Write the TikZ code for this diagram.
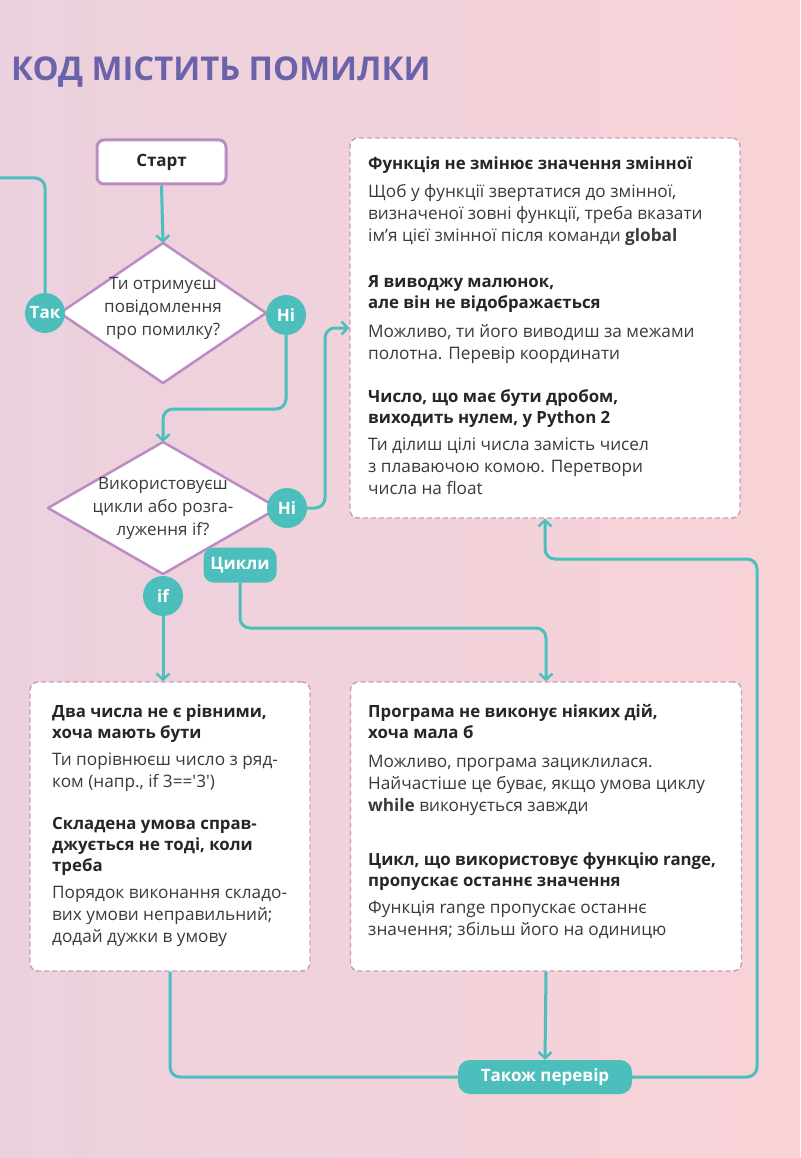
\documentclass[tikz,border=0pt]{standalone}
\usepackage{fontspec}
\setmainfont{Open Sans}
\usetikzlibrary{arrows.meta,calc}
\definecolor{tealc}{HTML}{4CBFBC}
\definecolor{purpc}{HTML}{BA8CC2}
\definecolor{dashc}{HTML}{C59DB6}
\definecolor{titlec}{HTML}{6A63AA}
\definecolor{bgleft}{HTML}{EBD1DE}
\definecolor{bgright}{HTML}{F8D3D8}
\definecolor{bodyc}{HTML}{3A3A3A}
\definecolor{headc}{HTML}{262626}
\begin{document}
\begin{tikzpicture}[x=1pt,y=-1pt,
  conn/.style={draw=tealc,line width=3pt,rounded corners=10pt},
  arr/.style={-{Straight Barb[length=6pt,width=13pt,line width=2.5pt]}},
  diam/.style={fill=white,draw=purpc,line width=2.5pt,line join=round},
  startbox/.style={draw=purpc,line width=3pt,fill=white,rounded corners=7pt,minimum width=129pt,minimum height=44pt,inner sep=0pt,font=\bfseries\fontsize{17}{20}\selectfont,text=headc},
  dbox/.style={draw=dashc,line width=1.4pt,dash pattern=on 5pt off 3pt,fill=white,rounded corners=8pt,inner sep=0pt},
  badge/.style={circle,fill=tealc,minimum size=40pt,inner sep=0pt,text=white,font=\bfseries\fontsize{17}{18}\selectfont},
  pill/.style={rounded corners=10pt,fill=tealc,inner sep=0pt,text=white,font=\bfseries\fontsize{17}{18}\selectfont},
  qtext/.style={align=center,inner sep=0pt,text=bodyc,font=\fontsize{17}{23}\selectfont},
  head/.style={anchor=base west,inner sep=0pt,align=left,text=headc,font=\bfseries\fontsize{16.8}{21}\selectfont},
  body/.style={anchor=base west,inner sep=0pt,align=left,text=bodyc,font=\fontsize{17.2}{22}\selectfont}
]
\useasboundingbox (0,0) rectangle (800,1158);
\shade[left color=bgleft,right color=bgright] (0,0) rectangle (800,1158);

% title
\node[anchor=base west,inner sep=0pt,text=titlec,font=\bfseries\fontsize{32.8}{40}\selectfont] (title) at (11,81) {КОД МІСТИТЬ ПОМИЛКИ};

% start
\node[startbox] (start) at (161.5,162) {Старт};

% diamond 1
\coordinate (d1top) at (163,243);
\draw[diam] (d1top) -- (266,313) -- (163,383) -- (60,313) -- cycle;
\node[qtext] (q1) at (163,308) {Ти отримуєш\\повідомлення\\про помилку?};

% diamond 2
\coordinate (d2top) at (163,442);
\draw[diam] (d2top) -- (278,508) -- (163,574) -- (48,508) -- cycle;
\node[qtext] (q2) at (163,508) {Використовуєш\\цикли або розга-\\луження if?};

% badges
\node[badge] (tak) at (45,313) {Так};
\node[badge] (ni1) at (286,315) {Ні};
\node[badge] (ni2) at (287,508) {Ні};
\node[badge] (ifb) at (163,596) {if};
\node[pill,minimum width=73pt,minimum height=35pt] (cykly) at (240,565) {Цикли};

% boxes
\node[dbox,minimum width=390pt,minimum height=380pt] (box1) at (545,328) {};
\node[dbox,minimum width=280pt,minimum height=289pt] (box2) at (170,826.5) {};
\node[dbox,minimum width=391pt,minimum height=289pt] (box3) at (546,826.5) {};

% bottom pill
\node[pill,minimum width=174pt,minimum height=34pt,rounded corners=12pt] (also) at (545,1077) {Також перевір};

% box1 text (anchors at last-line baselines)
\node[head] (h11) at (368,170) {Функція не змінює значення змінної};
\node[body] (b11) at (368,242) {Щоб у функції звертатися до змінної,\\визначеної зовні функції, треба вказати\\ім’я цієї змінної після команди \textbf{global}};
\node[head] (h12) at (368,308) {Я виводжу малюнок,\\але він не відображається};
\node[body] (b12) at (368,359) {Можливо, ти його виводиш за межами\\полотна. Перевір координати};
\node[head] (h13) at (368,423) {Число, що має бути дробом,\\виходить нулем, у Python 2};
\node[body] (b13) at (368,494) {Ти ділиш цілі числа замість чисел\\з плаваючою комою. Перетвори\\числа на float};

% box2 text
\node[head] (h21) at (52,738) {Два числа не є рівними,\\хоча мають бути};
\node[body] (b21) at (52,787) {Ти порівнюєш число з ряд-\\ком (напр., if 3==\textquotesingle 3\textquotesingle)};
\node[head] (h22) at (52,871) {Складена умова справ-\\джується не тоді, коли\\треба};
\node[body] (b22) at (52,942) {Порядок виконання складо-\\вих умови неправильний;\\додай дужки в умову};

% box3 text
\node[head] (h31) at (368,738) {Програма не виконує ніяких дій,\\хоча мала б};
\node[body] (b31) at (368,811) {Можливо, програма зациклилася.\\Найчастіше це буває, якщо умова циклу\\\textbf{while} виконується завжди};
\node[head] (h32) at (368,886) {Цикл, що використовує функцію range,\\пропускає останнє значення};
\node[body] (b32) at (368,935) {Функція range пропускає останнє\\значення; збільш його на одиницю};

% connectors
\coordinate (offl) at (-5,178);
\draw[conn] (tak.north) |- (offl);
\draw[conn,arr] (start.south) -- (d1top);
\coordinate (j1) at (163,409);
\draw[conn,arr] (ni1.south) |- (j1) -- (d2top);
\coordinate (j2) at (325,328);
\draw[conn,arr] (ni2.east) -| (j2) -- (box1.west);
\draw[conn,arr] (ifb.south) -- (ifb.south |- box2.north);
\coordinate (j3) at (400,628);
\draw[conn,arr] (cykly.south) |- (j3) -| (box3.north);
\draw[conn] (box2.south) |- (also.west);
\draw[conn,arr] (box3.south) -- (also.north);
\coordinate (j4) at (757,559);
\draw[conn,arr] (also.east) -| (j4) -| (box1.south);
\end{tikzpicture}
\end{document}
